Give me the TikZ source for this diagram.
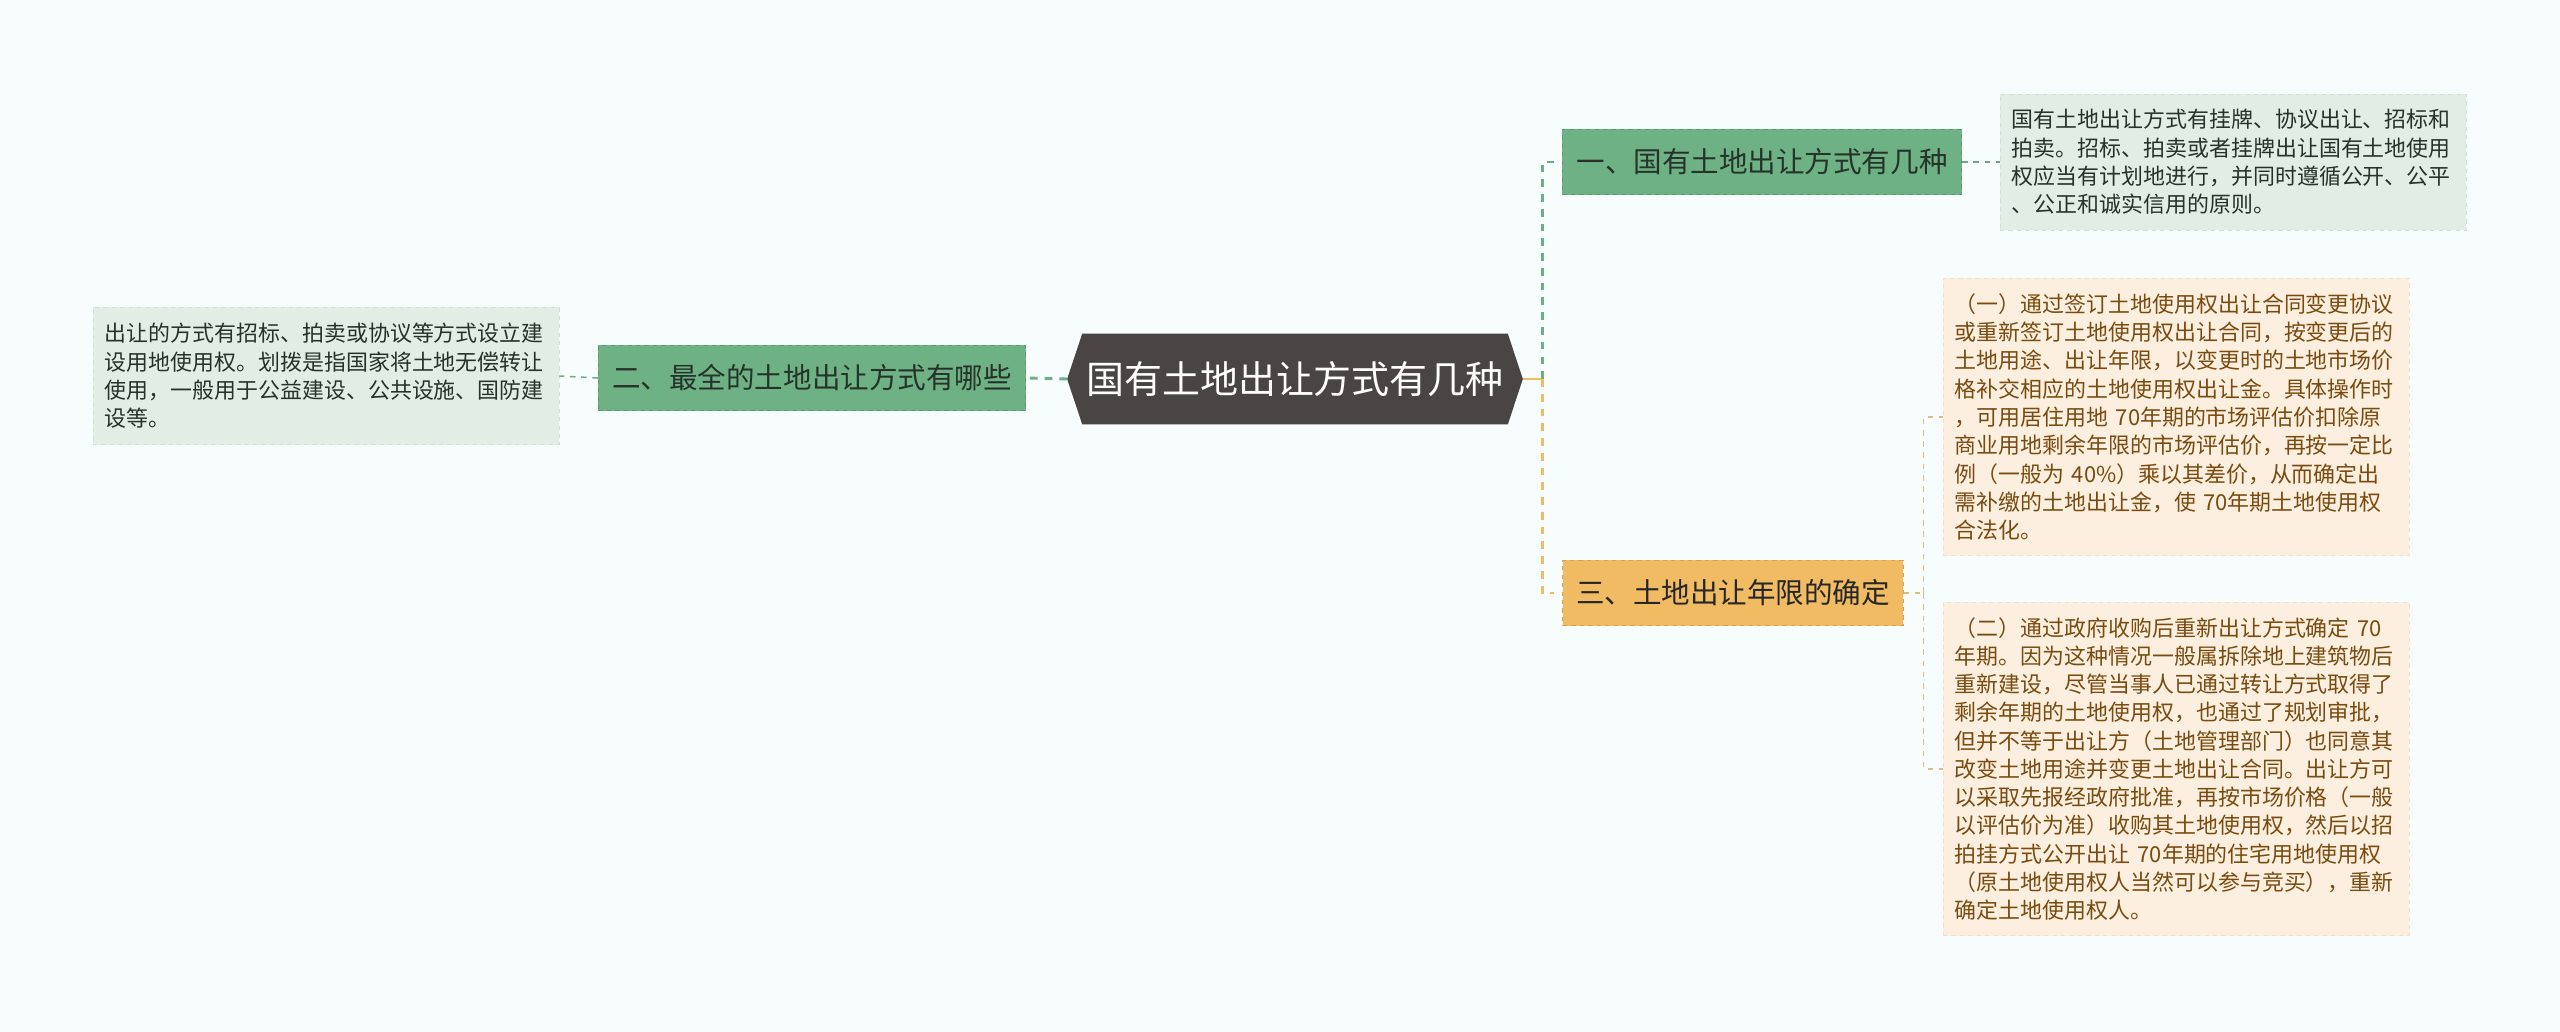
\documentclass[tikz,border=0pt]{standalone}
\usepackage{fontspec}
\setmainfont{Noto Sans CJK SC}
\usepackage{xcolor}
\usetikzlibrary{positioning,backgrounds,calc}
\definecolor{cBg}{HTML}{F7FCFC}
\definecolor{cRoot}{HTML}{4A4545}
\definecolor{cG}{HTML}{6EB184}
\definecolor{cGd}{HTML}{5A9A6E}
\definecolor{cGl}{HTML}{E2EEE5}
\definecolor{cGb}{HTML}{CFE0D3}
\definecolor{cO}{HTML}{F1BB64}
\definecolor{cOd}{HTML}{D8A14C}
\definecolor{cOl}{HTML}{FCEFDF}
\definecolor{cOb}{HTML}{F2DFC5}
\definecolor{cLine}{HTML}{6FAE8A}
\definecolor{cTan}{HTML}{DDBC8A}
\definecolor{cGtx}{HTML}{26332A}
\definecolor{cOtx}{HTML}{7A4B10}
\tikzset{
  rootbox/.style={text=white,font=\fontsize{27pt}{32pt}\selectfont,minimum width=11.375cm,minimum height=2.25cm,inner sep=0pt},
  topic/.style={draw=cGd,fill=cG,text=cGtx,dashed,line width=0.7pt,font=\fontsize{20.3pt}{24pt}\selectfont,minimum height=1.625cm,inner xsep=0.2cm},
  otopic/.style={topic,draw=cOd,fill=cO,text=black!85},
  leaf/.style={draw=cGb,fill=cGl,text=cGtx,dashed,line width=0.6pt,font=\fontsize{15.6pt}{20.1pt}\selectfont,align=left,text width=11.05cm,inner xsep=0.3cm},
  oleaf/.style={leaf,draw=cOb,fill=cOl,text=cOtx},
  spine/.style={line width=2.1pt,dash pattern=on 5.5pt off 5pt},
  twig/.style={line width=1.1pt,dash pattern=on 4pt off 4pt}
}

\begin{document}
\begin{tikzpicture}[x=0.025cm,y=-0.025cm]
  \useasboundingbox (0,0) rectangle (2560,1032);
  % centre and first level
  \node[rootbox] (root) at (1295,379) {国有土地出让方式有几种};
  \node[topic,minimum width=9.975cm] (way) at (1762,162) {一、国有土地出让方式有几种};
  \node[topic,minimum width=10.675cm] (best) at (812,378) {二、最全的土地出让方式有哪些};
  \node[otopic,minimum width=8.5cm] (term) at (1733,593) {三、土地出让年限的确定};
  % leaves
  \node[leaf,minimum height=3.4cm] (wayleaf) at (2233,162) {国有土地出让方式有挂牌、协议出让、招标和\\拍卖。招标、拍卖或者挂牌出让国有土地使用\\权应当有计划地进行，并同时遵循公开、公平\\、公正和诚实信用的原则。};
  \node[leaf,minimum height=3.425cm] (bestleaf) at (326,376) {出让的方式有招标、拍卖或协议等方式设立建\\设用地使用权。划拨是指国家将土地无偿转让\\使用，一般用于公益建设、公共设施、国防建\\设等。};
  \node[oleaf,minimum height=6.925cm] (termone) at (2176,417) {（一）通过签订土地使用权出让合同变更协议\\或重新签订土地使用权出让合同，按变更后的\\土地用途、出让年限，以变更时的土地市场价\\格补交相应的土地使用权出让金。具体操作时\\，可用居住用地 70年期的市场评估价扣除原\\商业用地剩余年限的市场评估价，再按一定比\\例（一般为 40\%）乘以其差价，从而确定出\\需补缴的土地出让金，使 70年期土地使用权\\合法化。};
  \node[oleaf,minimum height=8.325cm] (termtwo) at (2176,769) {（二）通过政府收购后重新出让方式确定 70\\年期。因为这种情况一般属拆除地上建筑物后\\重新建设，尽管当事人已通过转让方式取得了\\剩余年期的土地使用权，也通过了规划审批，\\但并不等于出让方（土地管理部门）也同意其\\改变土地用途并变更土地出让合同。出让方可\\以采取先报经政府批准，再按市场价格（一般\\以评估价为准）收购其土地使用权，然后以招\\拍挂方式公开出让 70年期的住宅用地使用权\\（原土地使用权人当然可以参与竞买），重新\\确定土地使用权人。};
  % background and hexagon
  \begin{scope}[on background layer]
    \fill[cBg] (0,0) rectangle (2560,1032);
    \fill[cRoot] ($(root.north west)+(15,0)$) -- ($(root.north east)+(-15,0)$) -- (root.east)
      -- ($(root.south east)+(-15,0)$) -- ($(root.south west)+(15,0)$) -- (root.west) -- cycle;
  \end{scope}
  % connectors
  \coordinate (fork) at ($(root.east)+(20,0)$);
  \coordinate (tfork) at ($(term.east)+(20,0)$);
  \draw[cO,line width=2.1pt] (root.east) -- (fork);
  \draw[spine,cLine,shorten >=6] (fork) |- (way.west);
  \draw[spine,cO,shorten >=6] (fork) |- (term.west);
  \draw[spine,cLine] (root.west) -- (best.east);
  \draw[twig,cLine] (best.west) -- (bestleaf.east);
  \draw[twig,cLine!80!gray] (way.east) -- (wayleaf.west);
  \draw[twig,cTan] (term.east) -- (tfork);
  \draw[twig,cTan] (tfork) |- (termone.west);
  \draw[twig,cTan] (tfork) |- (termtwo.west);
\end{tikzpicture}
\end{document}
